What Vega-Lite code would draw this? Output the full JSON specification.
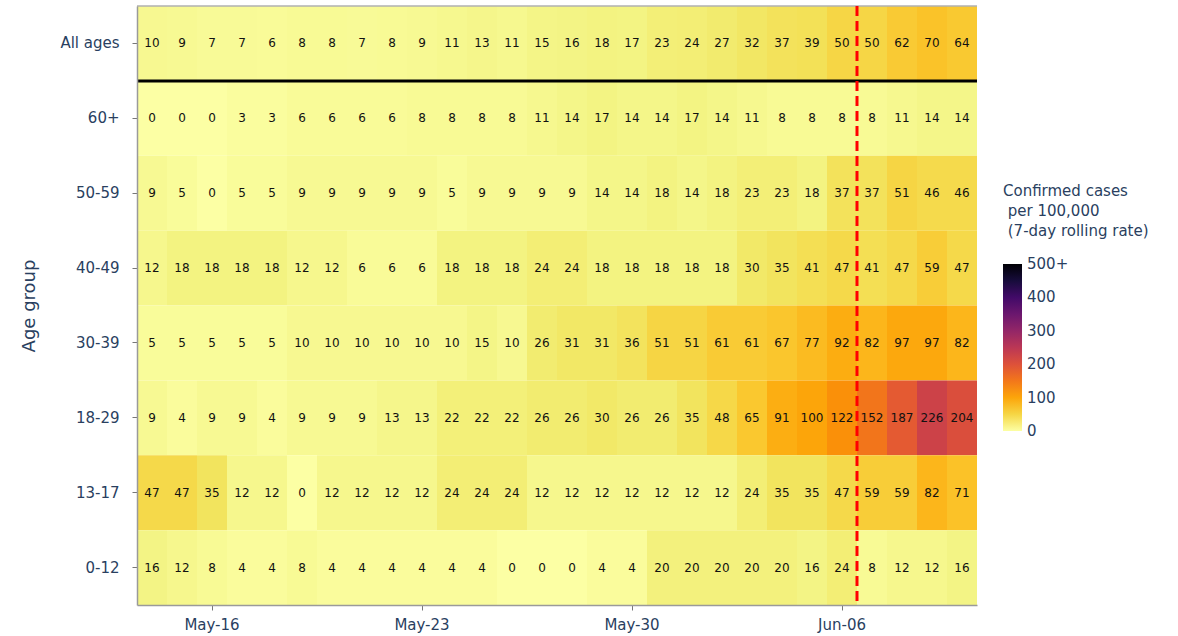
{
  "$schema": "https://vega.github.io/schema/vega-lite/v6.json",
  "autosize": {"type": "none"},
  "padding": {"left": 137, "top": 6, "right": 201, "bottom": 31},
  "width": 840,
  "height": 599,
  "background": "white",
  "config": {
    "view": {"stroke": null},
    "font": "DejaVu Sans",
    "axis": {"labelFont": "DejaVu Sans", "titleFont": "DejaVu Sans", "labelColor": "#2a3f5f", "titleColor": "#2a3f5f", "domainColor": "#9a9a9a", "domainWidth": 1.5, "tickColor": "#777", "tickSize": 5, "grid": false},
    "legend": {"labelFont": "DejaVu Sans", "titleFont": "DejaVu Sans"}
  },
  "datasets": {
    "cells": [
{"d":"May-14","g":"All ages","v":10},{"d":"May-15","g":"All ages","v":9},{"d":"May-16","g":"All ages","v":7},{"d":"May-17","g":"All ages","v":7},{"d":"May-18","g":"All ages","v":6},{"d":"May-19","g":"All ages","v":8},{"d":"May-20","g":"All ages","v":8},{"d":"May-21","g":"All ages","v":7},{"d":"May-22","g":"All ages","v":8},{"d":"May-23","g":"All ages","v":9},{"d":"May-24","g":"All ages","v":11},{"d":"May-25","g":"All ages","v":13},{"d":"May-26","g":"All ages","v":11},{"d":"May-27","g":"All ages","v":15},{"d":"May-28","g":"All ages","v":16},{"d":"May-29","g":"All ages","v":18},{"d":"May-30","g":"All ages","v":17},{"d":"May-31","g":"All ages","v":23},{"d":"Jun-01","g":"All ages","v":24},{"d":"Jun-02","g":"All ages","v":27},{"d":"Jun-03","g":"All ages","v":32},{"d":"Jun-04","g":"All ages","v":37},{"d":"Jun-05","g":"All ages","v":39},{"d":"Jun-06","g":"All ages","v":50},{"d":"Jun-07","g":"All ages","v":50},{"d":"Jun-08","g":"All ages","v":62},{"d":"Jun-09","g":"All ages","v":70},{"d":"Jun-10","g":"All ages","v":64},
{"d":"May-14","g":"60+","v":0},{"d":"May-15","g":"60+","v":0},{"d":"May-16","g":"60+","v":0},{"d":"May-17","g":"60+","v":3},{"d":"May-18","g":"60+","v":3},{"d":"May-19","g":"60+","v":6},{"d":"May-20","g":"60+","v":6},{"d":"May-21","g":"60+","v":6},{"d":"May-22","g":"60+","v":6},{"d":"May-23","g":"60+","v":8},{"d":"May-24","g":"60+","v":8},{"d":"May-25","g":"60+","v":8},{"d":"May-26","g":"60+","v":8},{"d":"May-27","g":"60+","v":11},{"d":"May-28","g":"60+","v":14},{"d":"May-29","g":"60+","v":17},{"d":"May-30","g":"60+","v":14},{"d":"May-31","g":"60+","v":14},{"d":"Jun-01","g":"60+","v":17},{"d":"Jun-02","g":"60+","v":14},{"d":"Jun-03","g":"60+","v":11},{"d":"Jun-04","g":"60+","v":8},{"d":"Jun-05","g":"60+","v":8},{"d":"Jun-06","g":"60+","v":8},{"d":"Jun-07","g":"60+","v":8},{"d":"Jun-08","g":"60+","v":11},{"d":"Jun-09","g":"60+","v":14},{"d":"Jun-10","g":"60+","v":14},
{"d":"May-14","g":"50-59","v":9},{"d":"May-15","g":"50-59","v":5},{"d":"May-16","g":"50-59","v":0},{"d":"May-17","g":"50-59","v":5},{"d":"May-18","g":"50-59","v":5},{"d":"May-19","g":"50-59","v":9},{"d":"May-20","g":"50-59","v":9},{"d":"May-21","g":"50-59","v":9},{"d":"May-22","g":"50-59","v":9},{"d":"May-23","g":"50-59","v":9},{"d":"May-24","g":"50-59","v":5},{"d":"May-25","g":"50-59","v":9},{"d":"May-26","g":"50-59","v":9},{"d":"May-27","g":"50-59","v":9},{"d":"May-28","g":"50-59","v":9},{"d":"May-29","g":"50-59","v":14},{"d":"May-30","g":"50-59","v":14},{"d":"May-31","g":"50-59","v":18},{"d":"Jun-01","g":"50-59","v":14},{"d":"Jun-02","g":"50-59","v":18},{"d":"Jun-03","g":"50-59","v":23},{"d":"Jun-04","g":"50-59","v":23},{"d":"Jun-05","g":"50-59","v":18},{"d":"Jun-06","g":"50-59","v":37},{"d":"Jun-07","g":"50-59","v":37},{"d":"Jun-08","g":"50-59","v":51},{"d":"Jun-09","g":"50-59","v":46},{"d":"Jun-10","g":"50-59","v":46},
{"d":"May-14","g":"40-49","v":12},{"d":"May-15","g":"40-49","v":18},{"d":"May-16","g":"40-49","v":18},{"d":"May-17","g":"40-49","v":18},{"d":"May-18","g":"40-49","v":18},{"d":"May-19","g":"40-49","v":12},{"d":"May-20","g":"40-49","v":12},{"d":"May-21","g":"40-49","v":6},{"d":"May-22","g":"40-49","v":6},{"d":"May-23","g":"40-49","v":6},{"d":"May-24","g":"40-49","v":18},{"d":"May-25","g":"40-49","v":18},{"d":"May-26","g":"40-49","v":18},{"d":"May-27","g":"40-49","v":24},{"d":"May-28","g":"40-49","v":24},{"d":"May-29","g":"40-49","v":18},{"d":"May-30","g":"40-49","v":18},{"d":"May-31","g":"40-49","v":18},{"d":"Jun-01","g":"40-49","v":18},{"d":"Jun-02","g":"40-49","v":18},{"d":"Jun-03","g":"40-49","v":30},{"d":"Jun-04","g":"40-49","v":35},{"d":"Jun-05","g":"40-49","v":41},{"d":"Jun-06","g":"40-49","v":47},{"d":"Jun-07","g":"40-49","v":41},{"d":"Jun-08","g":"40-49","v":47},{"d":"Jun-09","g":"40-49","v":59},{"d":"Jun-10","g":"40-49","v":47},
{"d":"May-14","g":"30-39","v":5},{"d":"May-15","g":"30-39","v":5},{"d":"May-16","g":"30-39","v":5},{"d":"May-17","g":"30-39","v":5},{"d":"May-18","g":"30-39","v":5},{"d":"May-19","g":"30-39","v":10},{"d":"May-20","g":"30-39","v":10},{"d":"May-21","g":"30-39","v":10},{"d":"May-22","g":"30-39","v":10},{"d":"May-23","g":"30-39","v":10},{"d":"May-24","g":"30-39","v":10},{"d":"May-25","g":"30-39","v":15},{"d":"May-26","g":"30-39","v":10},{"d":"May-27","g":"30-39","v":26},{"d":"May-28","g":"30-39","v":31},{"d":"May-29","g":"30-39","v":31},{"d":"May-30","g":"30-39","v":36},{"d":"May-31","g":"30-39","v":51},{"d":"Jun-01","g":"30-39","v":51},{"d":"Jun-02","g":"30-39","v":61},{"d":"Jun-03","g":"30-39","v":61},{"d":"Jun-04","g":"30-39","v":67},{"d":"Jun-05","g":"30-39","v":77},{"d":"Jun-06","g":"30-39","v":92},{"d":"Jun-07","g":"30-39","v":82},{"d":"Jun-08","g":"30-39","v":97},{"d":"Jun-09","g":"30-39","v":97},{"d":"Jun-10","g":"30-39","v":82},
{"d":"May-14","g":"18-29","v":9},{"d":"May-15","g":"18-29","v":4},{"d":"May-16","g":"18-29","v":9},{"d":"May-17","g":"18-29","v":9},{"d":"May-18","g":"18-29","v":4},{"d":"May-19","g":"18-29","v":9},{"d":"May-20","g":"18-29","v":9},{"d":"May-21","g":"18-29","v":9},{"d":"May-22","g":"18-29","v":13},{"d":"May-23","g":"18-29","v":13},{"d":"May-24","g":"18-29","v":22},{"d":"May-25","g":"18-29","v":22},{"d":"May-26","g":"18-29","v":22},{"d":"May-27","g":"18-29","v":26},{"d":"May-28","g":"18-29","v":26},{"d":"May-29","g":"18-29","v":30},{"d":"May-30","g":"18-29","v":26},{"d":"May-31","g":"18-29","v":26},{"d":"Jun-01","g":"18-29","v":35},{"d":"Jun-02","g":"18-29","v":48},{"d":"Jun-03","g":"18-29","v":65},{"d":"Jun-04","g":"18-29","v":91},{"d":"Jun-05","g":"18-29","v":100},{"d":"Jun-06","g":"18-29","v":122},{"d":"Jun-07","g":"18-29","v":152},{"d":"Jun-08","g":"18-29","v":187},{"d":"Jun-09","g":"18-29","v":226},{"d":"Jun-10","g":"18-29","v":204},
{"d":"May-14","g":"13-17","v":47},{"d":"May-15","g":"13-17","v":47},{"d":"May-16","g":"13-17","v":35},{"d":"May-17","g":"13-17","v":12},{"d":"May-18","g":"13-17","v":12},{"d":"May-19","g":"13-17","v":0},{"d":"May-20","g":"13-17","v":12},{"d":"May-21","g":"13-17","v":12},{"d":"May-22","g":"13-17","v":12},{"d":"May-23","g":"13-17","v":12},{"d":"May-24","g":"13-17","v":24},{"d":"May-25","g":"13-17","v":24},{"d":"May-26","g":"13-17","v":24},{"d":"May-27","g":"13-17","v":12},{"d":"May-28","g":"13-17","v":12},{"d":"May-29","g":"13-17","v":12},{"d":"May-30","g":"13-17","v":12},{"d":"May-31","g":"13-17","v":12},{"d":"Jun-01","g":"13-17","v":12},{"d":"Jun-02","g":"13-17","v":12},{"d":"Jun-03","g":"13-17","v":24},{"d":"Jun-04","g":"13-17","v":35},{"d":"Jun-05","g":"13-17","v":35},{"d":"Jun-06","g":"13-17","v":47},{"d":"Jun-07","g":"13-17","v":59},{"d":"Jun-08","g":"13-17","v":59},{"d":"Jun-09","g":"13-17","v":82},{"d":"Jun-10","g":"13-17","v":71},
{"d":"May-14","g":"0-12","v":16},{"d":"May-15","g":"0-12","v":12},{"d":"May-16","g":"0-12","v":8},{"d":"May-17","g":"0-12","v":4},{"d":"May-18","g":"0-12","v":4},{"d":"May-19","g":"0-12","v":8},{"d":"May-20","g":"0-12","v":4},{"d":"May-21","g":"0-12","v":4},{"d":"May-22","g":"0-12","v":4},{"d":"May-23","g":"0-12","v":4},{"d":"May-24","g":"0-12","v":4},{"d":"May-25","g":"0-12","v":4},{"d":"May-26","g":"0-12","v":0},{"d":"May-27","g":"0-12","v":0},{"d":"May-28","g":"0-12","v":0},{"d":"May-29","g":"0-12","v":4},{"d":"May-30","g":"0-12","v":4},{"d":"May-31","g":"0-12","v":20},{"d":"Jun-01","g":"0-12","v":20},{"d":"Jun-02","g":"0-12","v":20},{"d":"Jun-03","g":"0-12","v":20},{"d":"Jun-04","g":"0-12","v":20},{"d":"Jun-05","g":"0-12","v":16},{"d":"Jun-06","g":"0-12","v":24},{"d":"Jun-07","g":"0-12","v":8},{"d":"Jun-08","g":"0-12","v":12},{"d":"Jun-09","g":"0-12","v":12},{"d":"Jun-10","g":"0-12","v":16}
    ],
    "marker": [{"d": "Jun-06", "g": "All ages"}]
  },
  "encoding": {
    "x": {"field": "d", "type": "ordinal", "sort": null,
      "scale": {"paddingInner": 0, "paddingOuter": 0},
      "axis": {"values": ["May-16", "May-23", "May-30", "Jun-06"], "title": null, "labelAngle": 0, "labelFontSize": 15, "labelPadding": 7}},
    "y": {"field": "g", "type": "ordinal",
      "sort": ["All ages", "60+", "50-59", "40-49", "30-39", "18-29", "13-17", "0-12"],
      "scale": {"paddingInner": 0, "paddingOuter": 0},
      "axis": {"title": "Age group", "titleFontSize": 18, "titleFontWeight": "normal", "titleX": -99, "labelFontSize": 15, "labelPadding": 13}}
  },
  "layer": [
    {
      "data": {"name": "cells"},
      "mark": {"type": "rect"},
      "encoding": {
        "color": {"field": "v", "type": "quantitative",
          "scale": {"scheme": "inferno", "reverse": true, "domain": [0, 500], "clamp": true},
          "legend": {
            "orient": "none", "legendX": 866, "legendY": 178,
            "title": ["Confirmed cases", "\u200b\u00a0per 100,000", "\u200b\u00a0(7-day rolling rate)"],
            "titleFontSize": 15, "titleFontWeight": "normal", "titleColor": "#2a3f5f", "titleLineHeight": 20, "titlePadding": 25,
            "gradientLength": 167, "gradientThickness": 19, "gradientStrokeWidth": 0,
            "values": [0, 100, 200, 300, 400, 500],
            "labelExpr": "datum.value >= 500 ? '500+' : datum.label",
            "labelFontSize": 15, "labelColor": "#2a3f5f", "labelOffset": 5, "labelOverlap": false, "labelBaseline": "middle",
            "encode": {"labels": {"update": {"baseline": {"value": "middle"}}}}
          }}
      }
    },
    {
      "data": {"name": "cells"},
      "mark": {"type": "text", "fontSize": 12, "color": "#111", "font": "DejaVu Sans"},
      "encoding": {"text": {"field": "v", "type": "quantitative"}}
    },
    {
      "data": {"name": "marker"},
      "mark": {"type": "rule", "color": "#b0b0b0", "strokeWidth": 1.5},
      "encoding": {
        "x": null,
        "y": {"field": "g", "type": "ordinal", "bandPosition": 0,
          "sort": ["All ages", "60+", "50-59", "40-49", "30-39", "18-29", "13-17", "0-12"]}
      }
    },
    {
      "data": {"name": "marker"},
      "mark": {"type": "rule", "color": "black", "strokeWidth": 3},
      "encoding": {
        "x": null,
        "y": {"field": "g", "type": "ordinal", "bandPosition": 1,
          "sort": ["All ages", "60+", "50-59", "40-49", "30-39", "18-29", "13-17", "0-12"]}
      }
    },
    {
      "data": {"name": "marker"},
      "mark": {"type": "rule", "color": "red", "strokeWidth": 3, "strokeDash": [10, 5]},
      "encoding": {
        "y": null,
        "x": {"field": "d", "type": "ordinal", "bandPosition": 1, "sort": null,
          "axis": {"values": ["May-16", "May-23", "May-30", "Jun-06"], "title": null, "labelAngle": 0, "labelFontSize": 15, "labelPadding": 7}}
      }
    }
  ]
}
